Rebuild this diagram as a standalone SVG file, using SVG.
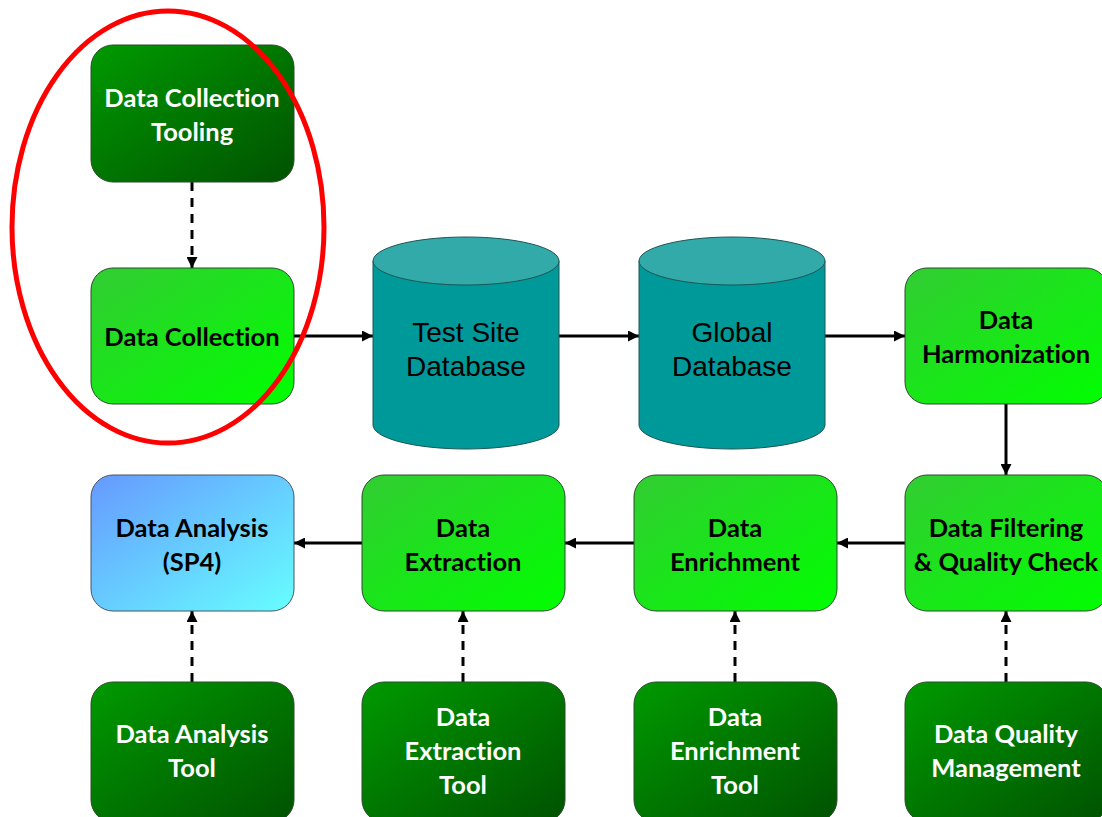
<svg xmlns="http://www.w3.org/2000/svg" width="1102" height="817" viewBox="0 0 1102 817">
<defs>
<linearGradient id="dk" x1="0" y1="0" x2="1" y2="1"><stop offset="0" stop-color="#009a00"/><stop offset="1" stop-color="#005200"/></linearGradient>
<linearGradient id="lt" x1="0" y1="0" x2="1" y2="1"><stop offset="0" stop-color="#33cc33"/><stop offset="1" stop-color="#00ff00"/></linearGradient>
<linearGradient id="bl" x1="0" y1="0" x2="1" y2="1"><stop offset="0" stop-color="#6699ff"/><stop offset="1" stop-color="#66ffff"/></linearGradient>
<marker id="ah" viewBox="0 0 10 10" refX="10" refY="5" markerWidth="11" markerHeight="11" markerUnits="userSpaceOnUse" orient="auto"><path d="M0,0 L10,5 L0,10 Z" fill="#000"/></marker>
<style>
.box{stroke:#2d4a2d;stroke-width:1}
.dk{fill:url(#dk)}
.lt{fill:url(#lt)}
.bl{fill:url(#bl);stroke:#445566}
.tw,.tb{font-family:Lato,"Liberation Sans",sans-serif;font-weight:700;font-size:25.5px;text-anchor:middle;dominant-baseline:central;font-variant-ligatures:none}
.tw{fill:#fff}
.tb{fill:#000}
.tc{font-family:"Liberation Sans",Arial,sans-serif;font-size:28px;fill:#000;text-anchor:middle;dominant-baseline:central}
.cyl{fill:#009999;stroke:#1e5555;stroke-width:1}
.cyltop{fill:#33aaaa;stroke:#1e5555;stroke-width:1}
.ln{stroke:#000;stroke-width:3;fill:none;marker-end:url(#ah)}
.dash{stroke-dasharray:9,7}
</style>
</defs>
<g id="connectors">
<line class="ln dash" x1="192" y1="182" x2="192" y2="268"/>
<line class="ln" x1="294" y1="336" x2="373" y2="336"/>
<line class="ln" x1="559" y1="336" x2="639" y2="336"/>
<line class="ln" x1="825" y1="336" x2="905" y2="336"/>
<line class="ln" x1="1006" y1="404" x2="1006" y2="475"/>
<line class="ln" x1="905" y1="543" x2="837" y2="543"/>
<line class="ln" x1="634" y1="543" x2="565" y2="543"/>
<line class="ln" x1="362" y1="543" x2="294" y2="543"/>
<line class="ln dash" x1="192" y1="682" x2="192" y2="611"/>
<line class="ln dash" x1="463" y1="682" x2="463" y2="611"/>
<line class="ln dash" x1="735" y1="682" x2="735" y2="611"/>
<line class="ln dash" x1="1006" y1="682" x2="1006" y2="611"/>
</g>
<g id="n-tooling"><rect class="box dk" x="91" y="45" width="203" height="137" rx="22"/><text class="tw" x="192" y="97">Data Collection</text><text class="tw" x="192" y="131">Tooling</text></g>
<g id="n-collection"><rect class="box lt" x="91" y="268" width="203" height="136" rx="22"/><text class="tb" x="192" y="336">Data Collection</text></g>
<g id="n-testsite"><path class="cyl" d="M373,261 L373,425 A93,24 0 0 0 559,425 L559,261 Z"/><ellipse class="cyltop" cx="466" cy="261" rx="93" ry="24"/><text class="tc" x="466" y="332">Test Site</text><text class="tc" x="466" y="366">Database</text></g>
<g id="n-global"><path class="cyl" d="M639,261 L639,425 A93,24 0 0 0 825,425 L825,261 Z"/><ellipse class="cyltop" cx="732" cy="261" rx="93" ry="24"/><text class="tc" x="732" y="332">Global</text><text class="tc" x="732" y="366">Database</text></g>
<g id="n-harmonization"><rect class="box lt" x="905" y="268" width="203" height="136" rx="22"/><text class="tb" x="1006" y="319">Data</text><text class="tb" x="1006" y="353">Harmonization</text></g>
<g id="n-filtering"><rect class="box lt" x="905" y="475" width="203" height="136" rx="22"/><text class="tb" x="1006" y="527">Data Filtering</text><text class="tb" x="1006" y="561">&amp; Quality Check</text></g>
<g id="n-enrichment"><rect class="box lt" x="634" y="475" width="203" height="136" rx="22"/><text class="tb" x="735" y="527">Data</text><text class="tb" x="735" y="561">Enrichment</text></g>
<g id="n-extraction"><rect class="box lt" x="362" y="475" width="203" height="136" rx="22"/><text class="tb" x="463" y="527">Data</text><text class="tb" x="463" y="561">Extraction</text></g>
<g id="n-analysis"><rect class="box bl" x="91" y="475" width="203" height="136" rx="22"/><text class="tb" x="192" y="527">Data Analysis</text><text class="tb" x="192" y="561">(SP4)</text></g>
<g id="n-analysis-tool"><rect class="box dk" x="91" y="682" width="203" height="140" rx="22"/><text class="tw" x="192" y="733">Data Analysis</text><text class="tw" x="192" y="767">Tool</text></g>
<g id="n-extraction-tool"><rect class="box dk" x="362" y="682" width="203" height="140" rx="22"/><text class="tw" x="463" y="716">Data</text><text class="tw" x="463" y="750">Extraction</text><text class="tw" x="463" y="784">Tool</text></g>
<g id="n-enrichment-tool"><rect class="box dk" x="634" y="682" width="203" height="140" rx="22"/><text class="tw" x="735" y="716">Data</text><text class="tw" x="735" y="750">Enrichment</text><text class="tw" x="735" y="784">Tool</text></g>
<g id="n-quality-mgmt"><rect class="box dk" x="905" y="682" width="203" height="140" rx="22"/><text class="tw" x="1006" y="733">Data Quality</text><text class="tw" x="1006" y="767">Management</text></g>
<ellipse id="highlight" cx="168" cy="227" rx="156" ry="216" fill="none" stroke="#ff0000" stroke-width="5"/>
</svg>
